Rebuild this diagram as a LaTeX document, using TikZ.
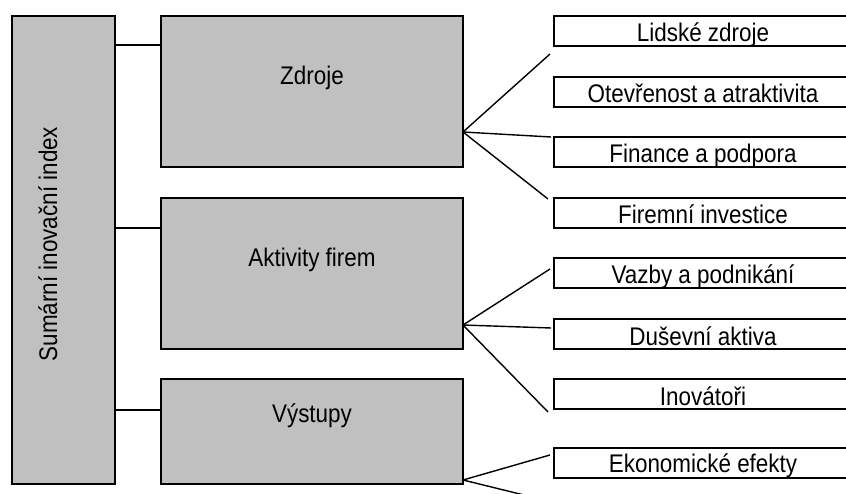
\documentclass[tikz,border=0pt]{standalone}
\usepackage{fontspec}
\setmainfont{Liberation Sans}[FakeStretch=0.88]
\definecolor{boxgray}{RGB}{192,192,192}
\begin{document}
\begin{tikzpicture}[x=1pt,y=-1pt,
  graybox/.style={draw, fill=boxgray, line width=2pt, inner sep=0pt, outer sep=0pt, anchor=north west},
  subbox/.style={draw, fill=white, line width=2pt, inner sep=0pt, outer sep=0pt, anchor=north west, minimum width=298pt, minimum height=30pt},
  conn/.style={line width=1.8pt},
  fan/.style={line width=1.4pt},
  lbl/.style={font=\fontsize{25.5}{30}\selectfont, inner sep=0pt, anchor=base}]
\useasboundingbox (0,0) rectangle (846,494);
\clip (0,0) rectangle (846,494);
\fill[white] (0,0) rectangle (846,494);
% main boxes
\node[graybox, minimum width=103pt, minimum height=468pt] (sum) at (12,16) {};
\node[graybox, minimum width=302pt, minimum height=151pt] (zdr) at (161,16) {};
\node[graybox, minimum width=302pt, minimum height=151pt] (akt) at (161,198) {};
\node[graybox, minimum width=302pt, minimum height=105pt] (vys) at (161,379) {};
% texts of main boxes
\node[lbl, rotate=90] (sumt) at (57,244) {Sumární inovační index};
\node[lbl] (zdrt) at (312,85) {Zdroje};
\node[lbl] (aktt) at (312,267) {Aktivity firem};
\node[lbl] (vyst) at (312,422) {Výstupy};
% sub boxes
\node[subbox] (s1) at (554,16) {};
\node[subbox] (s2) at (554,77) {};
\node[subbox] (s3) at (554,137) {};
\node[subbox] (s4) at (554,198) {};
\node[subbox] (s5) at (554,258) {};
\node[subbox] (s6) at (554,319) {};
\node[subbox] (s7) at (554,379) {};
\node[subbox] (s8) at (554,448) {};
\node[lbl] at (703,42) {Lidské zdroje};
\node[lbl] at (703,103) {Otevřenost a atraktivita};
\node[lbl] at (703,163) {Finance a podpora};
\node[lbl] at (703,224) {Firemní investice};
\node[lbl] at (703,284) {Vazby a podnikání};
\node[lbl] at (703,345) {Duševní aktiva};
\node[lbl] at (703,405) {Inovátoři};
\node[lbl] at (703,472) {Ekonomické efekty};
% connectors from the index box
\draw[conn] (sum.east |- 0,45) -- (zdr.west |- 0,45);
\draw[conn] (sum.east |- 0,228) -- (akt.west |- 0,228);
\draw[conn] (sum.east |- 0,410) -- (vys.west |- 0,410);
% fans
\coordinate (zf) at (zdr.east |- 0,132);
\coordinate (z1) at (550,54);
\coordinate (z2) at (551,137);
\coordinate (z3) at (548,199);
\draw[fan] (zf) -- (z1);
\draw[fan] (zf) -- (z2);
\draw[fan] (zf) -- (z3);
\coordinate (af) at (akt.east |- 0,325);
\coordinate (a1) at (550,269);
\coordinate (a2) at (551,328);
\coordinate (a3) at (548,412);
\draw[fan] (af) -- (a1);
\draw[fan] (af) -- (a2);
\draw[fan] (af) -- (a3);
\coordinate (vf) at (vys.east |- 0,480);
\coordinate (v1) at (550,455);
\coordinate (v2) at (528,496);
\draw[fan] (vf) -- (v1);
\draw[fan] (vf) -- (v2);
\end{tikzpicture}
\end{document}
